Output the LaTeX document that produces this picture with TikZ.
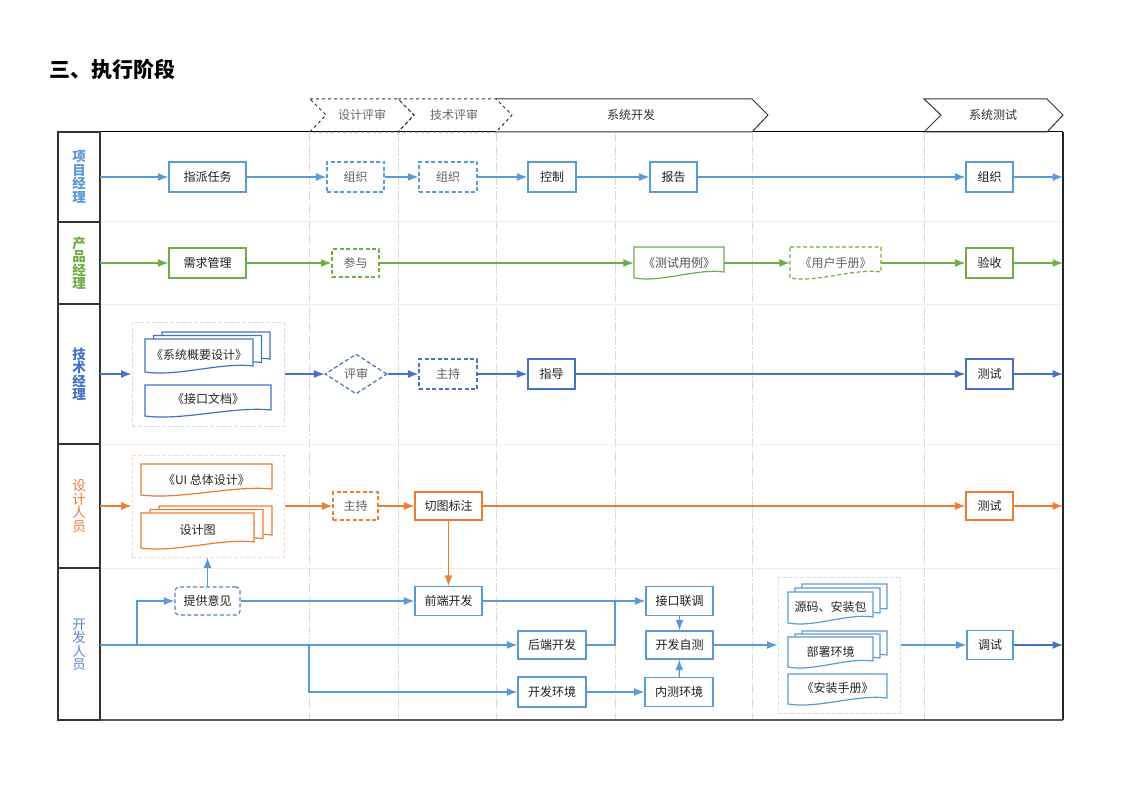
\documentclass[tikz,border=0pt]{standalone}
\usepackage{fontspec}
\setmainfont{Noto Sans CJK SC}
\usetikzlibrary{arrows.meta,shapes.geometric,calc}

\definecolor{pmblue}{HTML}{5B9BD5}
\definecolor{pdgreen}{HTML}{70AD47}
\definecolor{tmblue}{HTML}{4472C4}
\definecolor{dsorange}{HTML}{ED7D31}
\definecolor{devblue}{HTML}{5B9BD5}
\definecolor{guidegray}{HTML}{D9D9D9}
\definecolor{sepgray}{HTML}{EEEEEE}

% document shape with a wavy bottom edge: [style]{left}{top}{right}{bottom}
\newcommand{\docshape}[5][]{%
  \path[#1] ({#2},{#3}) -- ({#4},{#3}) -- ({#4},{(#5)-6})
    .. controls ({(#2)+0.7*((#4)-(#2))},{(#5)-10}) and ({(#2)+0.3*((#4)-(#2))},{(#5)+5})
    .. ({#2},{#5}) -- cycle;}
% stack of three documents: [style]{left}{top}{right}{bottom}{dx}{dy}
\newcommand{\multidoc}[7][]{%
  \docshape[#1]{#2+2*#6}{#3-2*#7}{#4+2*#6}{#5-2*#7}%
  \docshape[#1]{#2+#6}{#3-#7}{#4+#6}{#5-#7}%
  \docshape[#1]{#2}{#3}{#4}{#5}}

\begin{document}
\begin{tikzpicture}[x=1pt,y=-1pt,
  every node/.style={font=\fontsize{12}{14}\selectfont},
  box/.style={draw, fill=white, line width=1.2pt, inner sep=0pt, minimum height=30, text=black!88},
  dashbox/.style={box, dash pattern=on 4pt off 2.5pt, text=black!62},
  docbase/.style={fill=white, line width=1.2pt},
  docg/.style={docbase, draw=pdgreen},
  doct/.style={docbase, draw=tmblue},
  doco/.style={docbase, draw=dsorange},
  docv/.style={docbase, draw=devblue},
  doctext/.style={inner sep=0pt, text=black!85},
  grp/.style={draw, dash pattern=on 4pt off 2pt, line width=1pt, inner sep=0pt},
  conn/.style={line width=1.2pt, -{Latex[length=10.5pt,width=8pt]}},
  plainline/.style={line width=1.2pt},
  guide/.style={guidegray, line width=0.8pt, dash pattern=on 9pt off 2pt on 1.5pt off 2pt},
  lanesep/.style={sepgray, line width=1pt},
  cell/.style={draw=black!80, line width=1.6pt},
  chev/.style={draw=black!80, line width=1pt},
  phase/.style={inner sep=0pt},
  lab/.style={align=center, inner sep=0pt, font=\fontsize{13.5}{13.5}\selectfont}]

\useasboundingbox (0,0) rectangle (1123,794);

% title
\node[anchor=west, inner sep=0pt, font=\fontsize{21}{22}\selectfont\bfseries] (title) at (49,69) {三、执行阶段};

% phase guide lines and lane separators
\foreach \gx in {309,398,496,615,752,924} \draw[guide] (\gx,133) -- (\gx,719);
\foreach \ly in {222,304,444,568} \draw[lanesep] (100,\ly) -- (1062,\ly);

% frame
\draw[black, line width=1pt] (100,132) -- (1063,132);
\draw[black!85, line width=1.5pt] (1063,132) -- (1063,720);
\draw[black!65, line width=2pt] (100,720) -- (1063,720);
\foreach \a/\b in {132/222,222/304,304/444,444/568,568/720} \draw[cell] (58,\a) rectangle (100,\b);

% phase chevrons
\draw[chev, fill=white] (496,99) -- (752,99) -- (768,115) -- (752,132) -- (496,132);
\draw[chev, dashed] (310,99) -- (398,99) -- (414,115) -- (398,132) -- (310,132) -- (326,115) -- cycle;
\draw[chev, dashed] (398,99) -- (496,99) -- (512,115) -- (496,132) -- (398,132) -- (414,115) -- cycle;
\draw[chev] (924,99) -- (1047,99) -- (1063,115) -- (1047,132) -- (924,132) -- (941,115) -- cycle;
\node[phase, text=black!60] (ph1) at (362,115) {设计评审};
\node[phase, text=black!60] (ph2) at (454,115) {技术评审};
\node[phase, text=black!80] (ph3) at (631,115) {系统开发};
\node[phase, text=black!80] (ph4) at (993,115) {系统测试};

% lane labels
\node[lab, text=pmblue, font=\fontsize{13.5}{13.5}\selectfont\bfseries] (lab1) at (79,177) {项\\目\\经\\理};
\node[lab, text=pdgreen, font=\fontsize{13.5}{13.5}\selectfont\bfseries] (lab2) at (79,263) {产\\品\\经\\理};
\node[lab, text=tmblue, font=\fontsize{13.5}{13.5}\selectfont\bfseries] (lab3) at (79,374) {技\\术\\经\\理};
\node[lab, text=dsorange] (lab4) at (79,506) {设\\计\\人\\员};
\node[lab, text=tmblue!85] (lab5) at (79,645) {开\\发\\人\\员};

% ---- project manager lane
\coordinate (pmS) at (100,177);
\coordinate (pmE) at (1063,177);
\node[box, draw=pmblue, minimum width=77] (pm1) at (207.5,177) {指派任务};
\node[dashbox, draw=pmblue, minimum width=57] (pm2) at (355.5,177) {组织};
\node[dashbox, draw=pmblue, minimum width=58] (pm3) at (448,177) {组织};
\node[box, draw=pmblue, minimum width=48] (pm4) at (552,177) {控制};
\node[box, draw=pmblue, minimum width=47] (pm5) at (673.5,177) {报告};
\node[box, draw=pmblue, minimum width=47] (pm6) at (989.5,177) {组织};
\draw[conn, pmblue] (pmS) -- (pm1);
\draw[conn, pmblue] (pm1) -- (pm2);
\draw[conn, pmblue] (pm2) -- (pm3);
\draw[conn, pmblue] (pm3) -- (pm4);
\draw[conn, pmblue] (pm4) -- (pm5);
\draw[conn, pmblue] (pm5) -- (pm6);
\draw[conn, pmblue] (pm6) -- (pmE);

% ---- product manager lane
\coordinate (pdS) at (100,263);
\coordinate (pdE) at (1063,263);
\node[box, draw=pdgreen, minimum width=77] (pd1) at (207.5,263) {需求管理};
\node[dashbox, draw=pdgreen, minimum width=47, minimum height=28] (pd2) at (355.5,263) {参与};
\docshape[docg]{634}{247}{724}{278}
\node[doctext, text=black!70, minimum width=90, minimum height=24] (pd3) at (679,263) {《测试用例》};
\docshape[docg, dash pattern=on 4pt off 2.5pt]{790}{247}{881}{278}
\node[doctext, text=black!62, minimum width=91, minimum height=24] (pd4) at (835.5,263) {《用户手册》};
\node[box, draw=pdgreen, minimum width=47] (pd5) at (989.5,263) {验收};
\draw[conn, pdgreen] (pdS) -- (pd1);
\draw[conn, pdgreen] (pd1) -- (pd2);
\draw[conn, pdgreen] (pd2) -- (pd3);
\draw[conn, pdgreen] (pd3) -- (pd4);
\draw[conn, pdgreen] (pd4) -- (pd5);
\draw[conn, pdgreen] (pd5) -- (pdE);

% ---- technical manager lane
\coordinate (tS) at (100,374);
\coordinate (tE) at (1063,374);
\node[grp, draw=tmblue!25, minimum width=152, minimum height=104] (tg) at (208,374) {};
\multidoc[doct]{145}{339}{253}{372}{8.5}{3.5}
\node[doctext] (tdoc1) at (199,355) {《系统概要设计》};
\docshape[doct]{145}{385}{271}{416}
\node[doctext] (tdoc2) at (208,399) {《接口文档》};
\node[diamond, draw=tmblue, fill=white, line width=1.2pt, dash pattern=on 4pt off 2.5pt,
      minimum width=62, minimum height=40, inner sep=0pt, text=black!62] (te1) at (356,374) {评审};
\node[dashbox, draw=tmblue, minimum width=58] (te2) at (448,374) {主持};
\node[box, draw=tmblue, minimum width=47] (te3) at (551.5,374) {指导};
\node[box, draw=tmblue, minimum width=47] (te4) at (989.5,374) {测试};
\draw[conn, tmblue] (tS) -- (tg);
\draw[conn, tmblue] (tg) -- (te1);
\draw[conn, tmblue] (te1) -- (te2);
\draw[conn, tmblue] (te2) -- (te3);
\draw[conn, tmblue] (te3) -- (te4);
\draw[conn, tmblue] (te4) -- (tE);

% ---- designer lane
\coordinate (dS) at (100,506);
\coordinate (dE) at (1063,506);
\node[grp, draw=dsorange!30, minimum width=152, minimum height=102] (dg) at (208,506) {};
\docshape[doco]{141}{464}{272}{495}
\node[doctext] (ddoc1) at (206.5,480) {《UI 总体设计》};
\multidoc[doco]{141}{513}{254}{548}{9}{3.5}
\node[doctext] (ddoc2) at (197.5,530) {设计图};
\node[dashbox, draw=dsorange, minimum width=45, minimum height=28] (de1) at (355.5,506) {主持};
\node[box, draw=dsorange, minimum width=67, minimum height=28] (de2) at (448.5,506) {切图标注};
\node[box, draw=dsorange, minimum width=47, minimum height=28] (de3) at (989.5,506) {测试};
\draw[conn, dsorange] (dS) -- (dg);
\draw[conn, dsorange] (dg) -- (de1);
\draw[conn, dsorange] (de1) -- (de2);
\draw[conn, dsorange] (de2) -- (de3);
\draw[conn, dsorange] (de3) -- (dE);

% ---- developer lane
\coordinate (vS) at (100,645);
\coordinate (vJ1) at (137,645);
\coordinate (vJ2) at (309,645);
\coordinate (vJ3) at (615,601);
\coordinate (vE) at (1063,645);
\node[grp, draw=devblue!30, minimum width=122, minimum height=136] (vg) at (839,645) {};
\multidoc[docv]{788}{592}{873}{623}{7}{4}
\node[doctext] (vdoc1) at (830.5,607) {源码、安装包};
\multidoc[docv]{788}{637}{873}{667}{7}{3}
\node[doctext] (vdoc2) at (830.5,652) {部署环境};
\docshape[docv]{788}{674}{887}{704}
\node[doctext] (vdoc3) at (837.5,688) {《安装手册》};
\node[dashbox, rounded corners=4pt, draw=tmblue!90, minimum width=65, minimum height=28, text=black!88] (dv1) at (207.5,601) {提供意见};
\node[box, draw=devblue, minimum width=67, minimum height=29] (dv2) at (448.5,601) {前端开发};
\node[box, draw=devblue, minimum width=68, minimum height=28] (dv3) at (552,645) {后端开发};
\node[box, draw=devblue, minimum width=68, minimum height=30] (dv4) at (552,692) {开发环境};
\node[box, draw=devblue, minimum width=67, minimum height=29] (dv5) at (679.5,601) {接口联调};
\node[box, draw=devblue, minimum width=67, minimum height=28] (dv6) at (679.5,645) {开发自测};
\node[box, draw=devblue, minimum width=68, minimum height=29] (dv7) at (679,692) {内测环境};
\node[box, draw=devblue, minimum width=46, minimum height=29] (dv8) at (990,645) {调试};
\draw[conn, devblue] (vS) -- (dv3);
\draw[conn, devblue] (vJ1) |- (dv1);
\draw[conn, devblue] (vJ2) |- (dv4);
\draw[conn, devblue] (dv1.north) -- (dv1.north |- dg.south);
\draw[conn, devblue] (dv1) -- (dv2);
\draw[conn, dsorange] (de2) -- (dv2);
\draw[conn, devblue] (dv2) -- (dv5);
\draw[plainline, devblue] (dv3.east) -| (vJ3);
\draw[conn, devblue] (dv4) -- (dv7);
\draw[conn, devblue] (dv5) -- (dv6);
\draw[conn, devblue] (dv7) -- (dv6);
\draw[conn, devblue] (dv6) -- (vg);
\draw[conn, devblue] (vg) -- (dv8);
\draw[conn, tmblue] (dv8) -- (vE);
\end{tikzpicture}
\end{document}
